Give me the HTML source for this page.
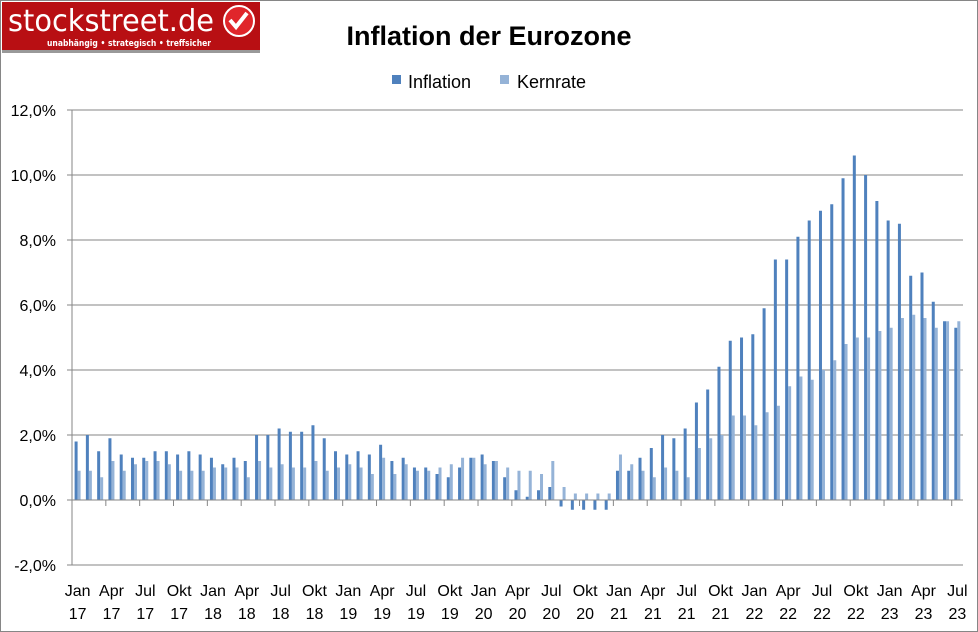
<!DOCTYPE html>
<html><head><meta charset="utf-8"><style>
html,body{margin:0;padding:0;background:#fff;}
svg{display:block;font-family:"Liberation Sans",Calibri,sans-serif;}
</style></head><body>
<svg id="s" width="978" height="632" xmlns="http://www.w3.org/2000/svg">
<rect x="0.5" y="0.5" width="977" height="631" fill="#fff" stroke="#868686"/>
<rect x="2" y="2" width="258" height="49" fill="#b80f13"/>
<rect x="2" y="50" width="258" height="3" fill="#999"/>
<text x="8" y="31" fill="#fff" font-size="30" textLength="206" lengthAdjust="spacingAndGlyphs" font-family="DejaVu Sans, sans-serif">stockstreet.de</text>
<text x="47" y="46" fill="#fff" font-size="9" font-weight="bold" textLength="164" lengthAdjust="spacingAndGlyphs" font-family="DejaVu Sans, sans-serif">unabhängig • strategisch • treffsicher</text>
<circle cx="239" cy="21" r="15" fill="#e0262b" stroke="#fff" stroke-width="2"/>
<path d="M230 20 l6 7 l11 -14" stroke="#fff" stroke-width="4" fill="none"/>
<text x="489" y="45" text-anchor="middle" font-size="27" font-weight="bold" fill="#000">Inflation der Eurozone</text>
<rect x="392" y="75" width="9" height="9" fill="#4f81bd"/>
<text x="408" y="88" font-size="18" fill="#000">Inflation</text>
<rect x="500" y="75" width="9" height="9" fill="#95b3d7"/>
<text x="517" y="88" font-size="18" fill="#000">Kernrate</text>
<g id="g"></g>
</svg>
<script>
var inf=[1.8,2.0,1.5,1.9,1.4,1.3,1.3,1.5,1.5,1.4,1.5,1.4,1.3,1.1,1.3,1.2,2.0,2.0,2.2,2.1,2.1,2.3,1.9,1.5,1.4,1.5,1.4,1.7,1.2,1.3,1.0,1.0,0.8,0.7,1.0,1.3,1.4,1.2,0.7,0.3,0.1,0.3,0.4,-0.2,-0.3,-0.3,-0.3,-0.3,0.9,0.9,1.3,1.6,2.0,1.9,2.2,3.0,3.4,4.1,4.9,5.0,5.1,5.9,7.4,7.4,8.1,8.6,8.9,9.1,9.9,10.6,10.0,9.2,8.6,8.5,6.9,7.0,6.1,5.5,5.3];
var core=[0.9,0.9,0.7,1.2,0.9,1.1,1.2,1.2,1.1,0.9,0.9,0.9,1.0,1.0,1.0,0.7,1.2,1.0,1.1,1.0,1.0,1.2,0.9,1.0,1.1,1.0,0.8,1.3,0.8,1.1,0.9,0.9,1.0,1.1,1.3,1.3,1.1,1.2,1.0,0.9,0.9,0.8,1.2,0.4,0.2,0.2,0.2,0.2,1.4,1.1,0.9,0.7,1.0,0.9,0.7,1.6,1.9,2.0,2.6,2.6,2.3,2.7,2.9,3.5,3.8,3.7,4.0,4.3,4.8,5.0,5.0,5.2,5.3,5.6,5.7,5.6,5.3,5.5,5.5];
var x0=72,x1=963,n=79,w=(x1-x0)/n,y0=500,k=32.5,h='';
function Y(v){return y0-v*k;}
for(var v=-2;v<=12;v+=2){var y=Y(v);if(v!=0)h+='<line x1="'+x0+'" x2="'+x1+'" y1="'+y+'" y2="'+y+'" stroke="#868686"/>';
h+='<line x1="'+(x0-5)+'" x2="'+x0+'" y1="'+y+'" y2="'+y+'" stroke="#868686"/>';
h+='<text x="'+(x0-16)+'" y="'+(y+6)+'" text-anchor="end" font-size="16">'+v.toFixed(1).replace('.',',')+'%</text>';}
for(var i=0;i<n;i++){var bx=x0+i*w+2.6;
[[inf[i],'#4f81bd',0],[core[i],'#95b3d7',3]].forEach(function(p){var a=Y(Math.max(p[0],0)),b=Y(Math.min(p[0],0));h+='<rect x="'+(bx+p[2]).toFixed(2)+'" y="'+a+'" width="3" height="'+(b-a)+'" fill="'+p[1]+'"/>';});}
h+='<line x1="'+x0+'" x2="'+x0+'" y1="110" y2="565" stroke="#868686"/>';
h+='<line x1="'+x0+'" x2="'+x1+'" y1="500" y2="500" stroke="#868686"/>';
var mn=['Jan','Apr','Jul','Okt'];
for(var i=0;i<n;i+=3){var tx=x0+i*w;h+='<line x1="'+tx+'" x2="'+tx+'" y1="500" y2="506" stroke="#868686"/>';
var cx=tx+w/2;h+='<text x="'+cx+'" y="596" text-anchor="middle" font-size="16">'+mn[(i/3)%4]+'</text><text x="'+cx+'" y="619" text-anchor="middle" font-size="16">'+(17+Math.floor(i/12))+'</text>';}
document.getElementById('g').innerHTML=h;
</script>
</body></html>
